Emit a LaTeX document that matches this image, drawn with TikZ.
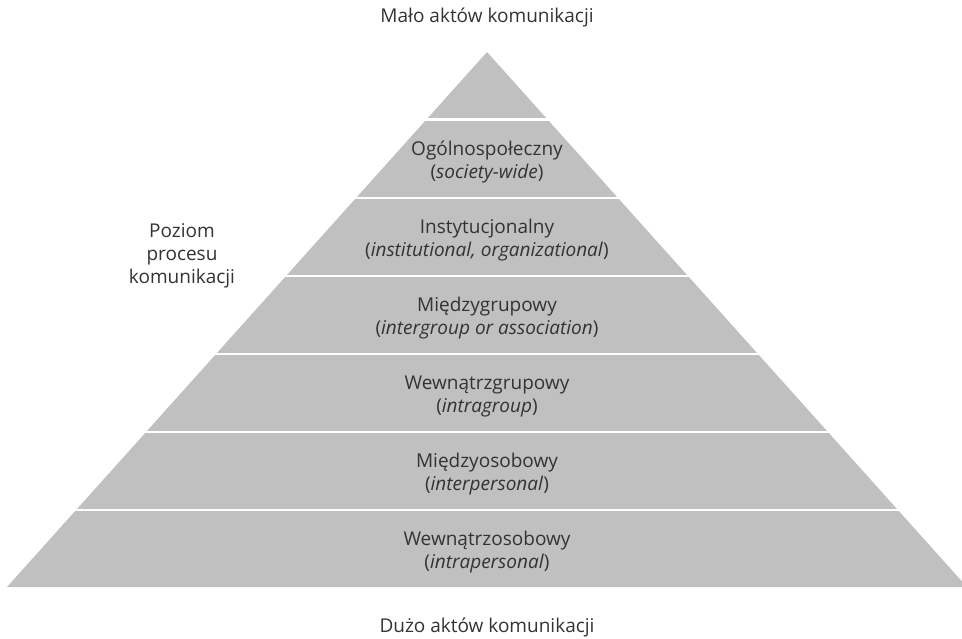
\documentclass[tikz,border=0pt]{standalone}
\usepackage{fontspec}
\setmainfont{Open Sans}
\begin{document}
\begin{tikzpicture}[x=1pt,y=-1pt,
  lbl/.style={text=black!80, font=\fontsize{19}{23}\selectfont, align=center, inner sep=0pt},
  sep/.style={draw=white, line width=2.5pt}]
\definecolor{pyr}{RGB}{192,192,193}
\useasboundingbox (0,0) rectangle (962,638);
\coordinate (apex) at (487,52);
\coordinate (bl) at (7,587);
\coordinate (br) at (967,587);
\fill[pyr] (apex) -- (bl) -- (br) -- cycle;
\foreach \y in {119.5,198,276,354,432,510}{
  \draw[sep] (0,\y) -- (962,\y);
}
\node[lbl] (top) at (487,18) {Mało aktów komunikacji};
\node[lbl] (bot) at (487,627) {Dużo aktów komunikacji};
\node[lbl] (side) at (182,256) {Poziom\\procesu\\komunikacji};
\node[lbl] (l1) at (487,162) {Ogólnospołeczny\\(\textit{society-wide})};
\node[lbl] (l2) at (487,240) {Instytucjonalny\\(\textit{institutional, organizational})};
\node[lbl] (l3) at (487,318) {Międzygrupowy\\(\textit{intergroup or association})};
\node[lbl] (l4) at (487,396) {Wewnątrzgrupowy\\(\textit{intragroup})};
\node[lbl] (l5) at (487,474) {Międzyosobowy\\(\textit{interpersonal})};
\node[lbl] (l6) at (487,552) {Wewnątrzosobowy\\(\textit{intrapersonal})};
\end{tikzpicture}
\end{document}
